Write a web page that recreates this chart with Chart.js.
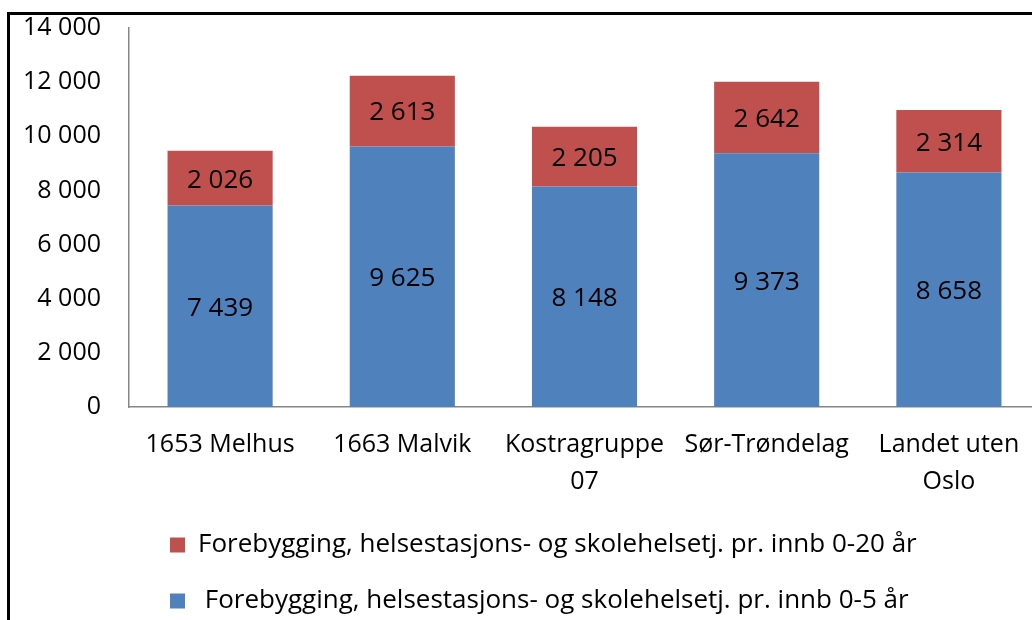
<!DOCTYPE html>
<html>
<head>
<meta charset="utf-8">
<script src="https://cdn.jsdelivr.net/npm/chart.js@4.4.1/dist/chart.umd.min.js"></script>
<style>
  body { margin: 0; background: #fff; }
  #wrap { position: relative; width: 1032px; height: 620px; overflow: hidden; }
  #ramme { position: absolute; left: 7px; top: 12px; width: 1100px; height: 700px;
           border-left: 3px solid #000; border-top: 3px solid #000; }
  #graf { position: absolute; left: 0; top: 0; }
</style>
</head>
<body>
<div id="wrap">
  <div id="ramme"></div>
  <canvas id="graf" width="1040" height="620"></canvas>
</div>
<script>
// Kategorier og verdier (kr pr. innbygger)
const kategorier = ['1653 Melhus', '1663 Malvik', ['Kostragruppe', '07'], 'Sør-Trøndelag', ['Landet uten', 'Oslo']];
const verdier0til5 = [7439, 9625, 8148, 9373, 8658];
const verdier0til20 = [2026, 2613, 2205, 2642, 2314];
const yTicks = [0, 2000, 4000, 6000, 8000, 10000, 12000, 14000];

const skrift = "'Open Sans', 'DejaVu Sans', sans-serif";

function formater(v) {
  return String(v).replace(/\B(?=(\d{3})+(?!\d))/g, ' ');
}

// Tegner verdiene midt i hver stolpedel
const verdiEtiketter = {
  id: 'verdiEtiketter',
  afterDatasetsDraw(chart) {
    const ctx = chart.ctx;
    ctx.save();
    ctx.font = '26px ' + skrift;
    ctx.fillStyle = '#000';
    ctx.textAlign = 'center';
    ctx.textBaseline = 'middle';
    chart.data.datasets.forEach((ds, i) => {
      const meta = chart.getDatasetMeta(i);
      meta.data.forEach((bar, j) => {
        const p = bar.getProps(['x', 'y', 'base'], true);
        ctx.fillText(formater(ds.data[j]), p.x, (p.y + p.base) / 2 + 2);
      });
    });
    ctx.restore();
  }
};

// Flytter forklaringen litt, slik som i originalen
const flyttForklaring = {
  id: 'flyttForklaring',
  afterLayout(chart) {
    const lg = chart.legend;
    lg.left = 140;
    lg.top += 4;
  }
};

const ctx = document.getElementById('graf').getContext('2d');
const myChart = new Chart(ctx, {
  type: 'bar',
  data: {
    labels: kategorier,
    datasets: [{
      label: ' Forebygging, helsestasjons- og skolehelsetj. pr. innb 0-5 år',
      data: verdier0til5,
      backgroundColor: '#4F81BD',
      borderWidth: 0,
    }, {
      label: 'Forebygging, helsestasjons- og skolehelsetj. pr. innb 0-20 år',
      data: verdier0til20,
      backgroundColor: '#C0504D',
      borderWidth: 0,
    }],
  },
  options: {
    responsive: false,
    animation: false,
    layout: { padding: { top: 28, right: 0, left: 0, bottom: 0 } },
    datasets: { bar: { categoryPercentage: 1, barPercentage: 0.577 } },
    scales: {
      x: {
        stacked: true,
        grid: { display: false, drawTicks: false },
        border: { display: true, color: '#868686', width: 1.5 },
        ticks: {
          color: '#000',
          padding: 20,
          maxRotation: 0,
          autoSkip: false,
          font: { family: skrift, size: 25, lineHeight: 1.45 },
        },
        afterFit(scale) { scale.height = 91; scale.paddingLeft = 0; scale.paddingRight = 0; },
      },
      y: {
        stacked: true,
        min: 0,
        max: 14000,
        grid: { display: false, drawTicks: false },
        border: { display: true, color: '#868686', width: 1.5 },
        afterBuildTicks(scale) { scale.ticks = yTicks.map(v => ({ value: v })); },
        ticks: {
          color: '#000',
          padding: 28,
          font: { family: skrift, size: 25 },
          callback: v => formater(v),
        },
        afterFit(scale) { scale.width = 129; scale.paddingTop = 0; scale.paddingBottom = 0; },
      },
    },
    plugins: {
      tooltip: { enabled: false },
      legend: {
        position: 'bottom',
        align: 'start',
        reverse: true,
        labels: {
          color: '#000',
          boxWidth: 15,
          boxHeight: 15,
          padding: 30,
          font: { family: skrift, size: 26 },
        },
      },
    },
  },
  plugins: [verdiEtiketter, flyttForklaring],
});
</script>
</body>
</html>
